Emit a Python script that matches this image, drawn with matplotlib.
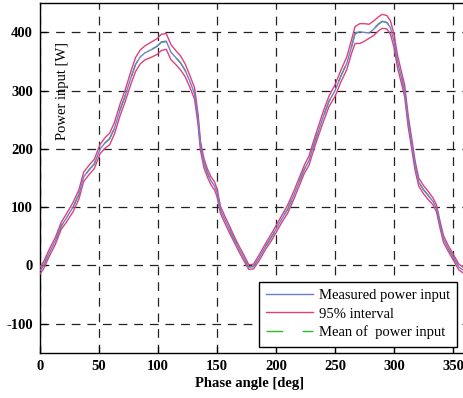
import matplotlib
matplotlib.use("Agg")
import matplotlib.pyplot as plt

# phase angle [deg]
phase = [0, 3, 8, 13, 18, 22, 28, 33, 37, 42, 46, 51, 55, 59, 63, 68, 72, 77, 81, 85,
         89, 94, 99, 103, 107, 111, 115, 119, 123, 127, 131, 134, 136, 139, 142, 145,
         148, 150, 153, 157, 161, 165, 169, 173, 177, 181, 186, 191, 196, 200, 205,
         210, 215, 220, 224, 228, 231, 235, 240, 245, 250, 255, 260, 264, 267, 271,
         275, 279, 283, 287, 290, 294, 297, 300, 303, 306, 309, 312, 315, 318, 321,
         325, 329, 333, 336, 339, 342, 346, 350, 355, 360]

measured = [-9, 0, 22, 42, 68, 80, 100, 122, 152, 165, 174, 200, 210, 217, 235, 268,
            290, 322, 345, 358, 365, 370, 376, 384, 385, 366, 357, 348, 335, 316, 295,
            250, 205, 175, 158, 145, 136, 125, 95, 77, 60, 43, 27, 12, -3, -2, 14, 32,
            48, 62, 80, 97, 120, 145, 165, 180, 200, 225, 255, 282, 300, 325, 347, 375,
            399, 401, 400, 399, 406, 414, 419, 417, 408, 385, 350, 325, 300, 248, 209,
            170, 143, 130, 120, 110, 98, 70, 45, 29, 15, -3, -10]

mean = [-9, 0, 22, 42, 67, 80, 100, 122, 152, 165, 174, 200, 210, 218, 235, 268,
        290, 322, 345, 358, 365, 370, 376, 383, 384, 366, 357, 348, 335, 316, 295,
        250, 205, 175, 158, 145, 136, 125, 95, 77, 60, 43, 27, 12, -3, -2, 14, 32,
        48, 62, 80, 97, 120, 145, 165, 180, 200, 225, 255, 282, 300, 325, 347, 375,
        398, 399, 400, 401, 407, 415, 419, 417, 408, 385, 350, 325, 300, 248, 209,
        170, 143, 130, 120, 110, 98, 70, 45, 29, 15, -3, -10]

upper = [-3, 6, 28, 48, 74, 87, 108, 130, 160, 173, 182, 208, 219, 227, 245, 278,
         300, 333, 357, 370, 377, 383, 389, 397, 398, 379, 369, 360, 346, 326, 305,
         259, 213, 183, 165, 152, 143, 132, 101, 83, 66, 48, 32, 17, 1, 2, 19, 37,
         54, 68, 86, 104, 127, 152, 172, 188, 208, 233, 264, 291, 310, 335, 358, 387,
         410, 415, 415, 414, 420, 427, 431, 429, 420, 397, 361, 335, 310, 258, 218,
         178, 150, 137, 127, 116, 104, 76, 51, 34, 20, 2, -5]

lower = [-15, -6, 16, 36, 62, 73, 92, 114, 144, 157, 166, 192, 201, 207, 225, 258,
         280, 311, 333, 346, 353, 357, 362, 369, 371, 353, 345, 336, 324, 306, 285,
         241, 197, 167, 151, 138, 129, 118, 89, 71, 54, 38, 22, 7, -7, -6, 9, 27,
         42, 56, 74, 90, 113, 138, 158, 172, 192, 217, 246, 273, 290, 315, 336, 364,
         381, 381, 385, 390, 395, 403, 407, 406, 397, 374, 339, 315, 290, 238, 200,
         162, 136, 123, 113, 104, 92, 64, 39, 24, 10, -8, -15]

plt.rcParams['font.family'] = ['Liberation Serif', 'DejaVu Serif']
plt.rcParams['axes.unicode_minus'] = False

fig = plt.figure(figsize=(4.64, 3.98), dpi=100)
ax = fig.add_axes([0.0862, 0.1138, 0.9155, 0.8779])

ax.plot(phase, mean, color='#2eb82e', lw=1.0, dashes=(12, 14), label='Mean of  power input', zorder=2)
ax.plot(phase, upper, color='#e0407a', lw=1.0, zorder=3)
ax.plot(phase, lower, color='#e0407a', lw=1.0, label='95% interval', zorder=3)
ax.plot(phase, measured, color='#6a80c8', lw=1.0, label='Measured power input', zorder=4)

ax.set_xlim(0, 360)
ax.set_ylim(-150, 450)
ax.set_xticks(range(0, 351, 50))
ax.set_yticks([-100, 0, 100, 200, 300, 400])
ax.grid(True, color='#222222', linestyle=(0, (7, 5.5)), linewidth=0.9)
ax.tick_params(direction='in', length=5, width=0.9, pad=5)
for lbl in ax.get_xticklabels() + ax.get_yticklabels():
    lbl.set_fontsize(10.5)
    lbl.set_fontweight('bold')
for s in ax.spines.values():
    s.set_linewidth(1.0)

ax.text(0.052, 0.749, 'Power input [W]', transform=ax.transAxes, rotation=90,
        ha='center', va='center', fontsize=10.5)
fig.text(250 / 464, (398 - 383) / 398, 'Phase angle [deg]', ha='center', va='center',
         fontsize=10.5, fontweight='bold')

handles, labels = ax.get_legend_handles_labels()
order = [2, 1, 0]
leg = ax.legend([handles[i] for i in order], [labels[i] for i in order],
                loc='lower right', bbox_to_anchor=(0.982, 0.017), borderaxespad=0,
                fontsize=10.5, handlelength=3.2, handletextpad=0.4, labelspacing=0.35,
                borderpad=0.5, fancybox=False, framealpha=1, edgecolor='black')
leg.get_frame().set_linewidth(1.0)

fig.savefig('out.png', dpi=100)
